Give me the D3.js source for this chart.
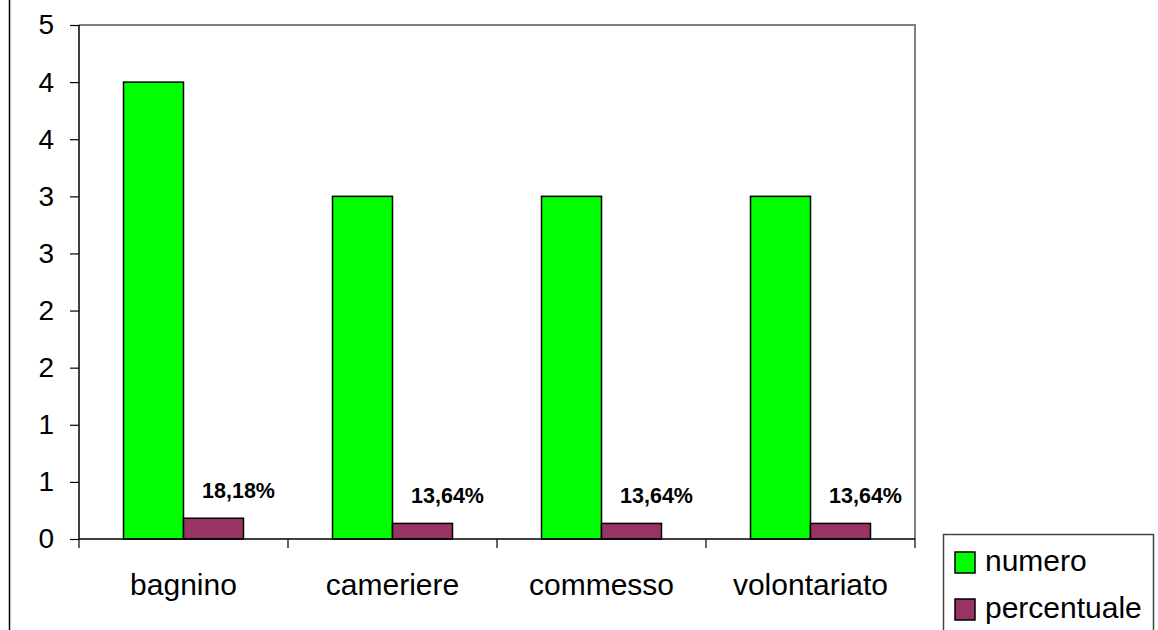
<!DOCTYPE html>
<html><head><meta charset="utf-8">
<script src="https://cdn.jsdelivr.net/npm/d3@7"></script>
<style>body{margin:0;background:#fff}svg{display:block;font-family:"Liberation Sans",Arial,sans-serif}</style>
</head><body>
<svg id="c" width="1158" height="630"></svg>
<script>
const categories = ["bagnino","cameriere","commesso","volontariato"];
const seriesNames = ["numero","percentuale"];
const numero = [4,3,3,3];
const percentuale = [0.1818,0.1364,0.1364,0.1364];
const percentLabels = ["18,18%","13,64%","13,64%","13,64%"];
const yTickValues = [0,0.5,1,1.5,2,2.5,3,3.5,4,4.5];
const yTickLabels = ["0","1","1","2","2","3","3","4","4","5"];
const colors = ["#00ff00","#993366"];

const svg = d3.select("#c");
const L = 79, R = 915, T = 25, B = 539;
const x0 = d3.scaleBand().domain(categories).range([L, R]).padding(0);
const x1 = d3.scaleBand().domain(seriesNames).range([0, x0.bandwidth()]).paddingInner(0).paddingOuter(0.742);
const y = d3.scaleLinear().domain([0, 4.5]).range([B, T]);

// outer chart border (left edge)
svg.append("line").attr("x1",9.5).attr("x2",9.5).attr("y1",0).attr("y2",630).attr("stroke","#000").attr("stroke-width",1.5);

// plot area border (top, right)
svg.append("path").attr("d",`M${L},${T}H${R}V${B}`).attr("fill","none").attr("stroke","#808080").attr("stroke-width",2);

// bars
const data = categories.map((c,i)=>({c, vals:[numero[i], percentuale[i]], lab: percentLabels[i]}));
const g = svg.selectAll("g.cat").data(data).join("g").attr("transform",d=>`translate(${x0(d.c)},0)`);
g.selectAll("rect").data(d=>d.vals.map((v,j)=>({s:seriesNames[j],v,j}))).join("rect")
  .attr("x",d=>x1(d.s)).attr("width",x1.bandwidth())
  .attr("y",d=>y(d.v)).attr("height",d=>B-y(d.v))
  .attr("fill",d=>colors[d.j]).attr("stroke","#000").attr("stroke-width",1.5);
g.append("text").attr("x",d=>x1("percentuale")+x1.bandwidth()/2+25).attr("y",d=>y(d.vals[1])-20)
  .attr("text-anchor","middle").attr("font-weight","bold").attr("font-size",21.5).attr("fill","#000")
  .text(d=>d.lab);

// y axis
const yAxis = d3.axisLeft(y).tickValues(yTickValues).tickSize(9).tickPadding(16).tickFormat((d,i)=>yTickLabels[i]);
const ya = svg.append("g").attr("transform",`translate(${L},0)`).call(yAxis);
ya.select(".domain").attr("stroke","#000").attr("stroke-width",1.5).attr("d",`M0,${T}V${B}`);
ya.selectAll(".tick line").attr("stroke","#000").attr("stroke-width",1.2);
ya.selectAll(".tick text").attr("font-size",28).attr("font-family","Liberation Sans, Arial, sans-serif").attr("fill","#000");

// x axis
const xa = svg.append("g").attr("transform",`translate(0,${B})`);
xa.append("line").attr("x1",L).attr("x2",R).attr("y1",0).attr("y2",0).attr("stroke","#000").attr("stroke-width",1.5);
const bounds = categories.map(c=>x0(c)).concat([R]);
xa.selectAll("line.t").data(bounds).join("line").attr("class","t")
  .attr("x1",d=>d).attr("x2",d=>d).attr("y1",0).attr("y2",9).attr("stroke","#000").attr("stroke-width",1.2);
xa.selectAll("text").data(categories).join("text")
  .attr("x",d=>x0(d)+x0.bandwidth()/2).attr("y",56).attr("text-anchor","middle")
  .attr("font-size",30).attr("fill","#000").text(d=>d);

// legend
const lg = svg.append("g");
lg.append("path").attr("d","M943.5,640V534.5H1153.5V640").attr("fill","none").attr("stroke","#444").attr("stroke-width",1.5);
seriesNames.forEach((s,i)=>{
  const yy = 552 + i*47;
  lg.append("rect").attr("x",955).attr("y",yy).attr("width",20).attr("height",21)
    .attr("fill",colors[i]).attr("stroke","#000").attr("stroke-width",1.5);
  lg.append("text").attr("x",985).attr("y",yy+19).attr("font-size",30).attr("fill","#000").text(s);
});
</script>
</body></html>
